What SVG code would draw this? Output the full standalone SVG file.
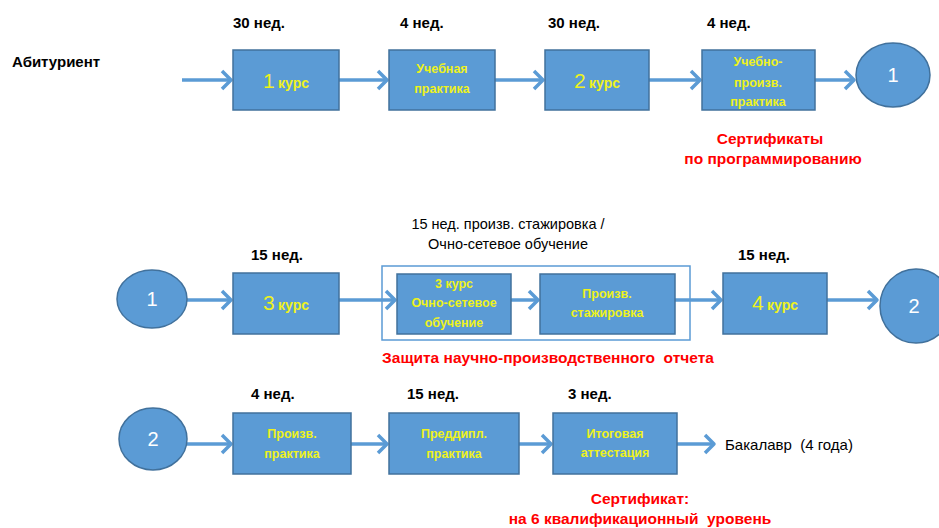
<svg xmlns="http://www.w3.org/2000/svg" width="939" height="528" viewBox="0 0 939 528">
<defs>
<marker id="ah" markerUnits="userSpaceOnUse" markerWidth="16" markerHeight="24" refX="12" refY="12" orient="auto">
<path d="M3,3 L12,12 L3,21" fill="none" stroke="#5b9bd5" stroke-width="3.5" stroke-linejoin="round"/>
</marker>
</defs>
<style>
text{white-space:pre}
.box{fill:#5b9bd5;stroke:#41719c;stroke-width:1.5}
.circ{fill:#5b9bd5;stroke:#41719c;stroke-width:1.5}
.bt{fill:#eef21c;font-family:"Liberation Sans",Arial,sans-serif;font-size:12.5px;font-weight:bold;text-anchor:middle}
.big{font-size:21px;font-weight:normal}
.mid{font-size:14px;font-weight:bold}
.ct{fill:#ffffff;font-family:"Liberation Sans",Arial,sans-serif;font-size:20px;text-anchor:middle}
.lbl{fill:#000;font-family:"Liberation Sans",Arial,sans-serif;font-size:15px;font-weight:bold}
.sm{fill:#000;font-family:"Liberation Sans",Arial,sans-serif;font-size:14.5px}
.red{fill:#ff0000;font-family:"Liberation Sans",Arial,sans-serif;font-size:15.5px;font-weight:bold;text-anchor:middle}
.arr{stroke:#5b9bd5;stroke-width:3.5;fill:none;marker-end:url(#ah)}
.frame{fill:none;stroke:#5b9bd5;stroke-width:1.5}
</style>
<rect width="939" height="528" fill="#ffffff"/>

<!-- labels -->
<text class="lbl" x="12" y="67">Абитуриент</text>
<text class="lbl" x="233" y="28">30 нед.</text>
<text class="lbl" x="400" y="28">4 нед.</text>
<text class="lbl" x="548" y="28">30 нед.</text>
<text class="lbl" x="707" y="28">4 нед.</text>
<text class="red" x="770" y="144">Сертификаты</text>
<text class="red" x="773" y="164">по программированию</text>

<text class="sm" x="508" y="229" text-anchor="middle">15 нед. произв. стажировка /</text>
<text class="sm" x="508" y="249" text-anchor="middle">Очно-сетевое обучение</text>
<text class="lbl" x="251" y="260">15 нед.</text>
<text class="lbl" x="738" y="260">15 нед.</text>
<text class="red" x="548" y="363">Защита научно-производственного  отчета</text>

<text class="lbl" x="251" y="399">4 нед.</text>
<text class="lbl" x="407" y="399">15 нед.</text>
<text class="lbl" x="568" y="399">3 нед.</text>
<text class="sm" x="725" y="450" style="font-size:15px">Бакалавр  (4 года)</text>
<text class="red" x="640" y="504">Сертификат:</text>
<text class="red" x="640" y="524">на 6 квалификационный  уровень</text>

<!-- connectors -->
<g id="connectors">
<path class="arr" d="M182,80 H231"/>
<path class="arr" d="M339,80 H387"/>
<path class="arr" d="M495,80 H543"/>
<path class="arr" d="M649,80 H700"/>
<path class="arr" d="M815,80 H854"/>
<path class="arr" d="M187,300 H231"/>
<path class="arr" d="M339,300 H395"/>
<path class="arr" d="M511,300 H538"/>
<path class="arr" d="M675,300 H721"/>
<path class="arr" d="M827,300 H877"/>
<path class="arr" d="M187,444 H231"/>
<path class="arr" d="M351,444 H387"/>
<path class="arr" d="M519,444 H551"/>
<path class="arr" d="M677,444 H714"/>
</g>

<!-- frame -->
<g id="frame">
<rect class="frame" x="382" y="266" width="308" height="74"/>
</g>

<!-- row 1 -->
<g id="n-kurs1"><rect class="box" x="233" y="50" width="106" height="60"/>
<text class="bt" x="286" y="88"><tspan class="big">1</tspan> <tspan class="mid">курс</tspan></text></g>
<g id="n-ucheb"><rect class="box" x="389" y="50" width="106" height="60"/>
<text class="bt" x="442" y="73">Учебная</text><text class="bt" x="442" y="93">практика</text></g>
<g id="n-kurs2"><rect class="box" x="545" y="50" width="104" height="60"/>
<text class="bt" x="597" y="88"><tspan class="big">2</tspan> <tspan class="mid">курс</tspan></text></g>
<g id="n-uchproiz"><rect class="box" x="702" y="50" width="113" height="60"/>
<text class="bt" x="758" y="66">Учебно-</text><text class="bt" x="758" y="87">произв.</text><text class="bt" x="758" y="106">практика</text></g>
<g id="c1a"><ellipse class="circ" cx="893" cy="75" rx="37" ry="32"/><text class="ct" x="893" y="82">1</text></g>

<!-- row 2 -->
<g id="c1b"><ellipse class="circ" cx="152" cy="299" rx="35" ry="29"/><text class="ct" x="152" y="306">1</text></g>
<g id="n-kurs3"><rect class="box" x="233" y="273" width="106" height="61"/>
<text class="bt" x="286" y="310"><tspan class="big">3</tspan> <tspan class="mid">курс</tspan></text></g>
<g id="n-ochno"><rect class="box" x="397" y="274" width="114" height="60"/>
<text class="bt" x="454" y="288">3 курс</text><text class="bt" x="454" y="307">Очно-сетевое</text><text class="bt" x="454" y="327">обучение</text></g>
<g id="n-stazh"><rect class="box" x="540" y="274" width="135" height="60"/>
<text class="bt" x="607" y="298">Произв.</text><text class="bt" x="607" y="317">стажировка</text></g>
<g id="n-kurs4"><rect class="box" x="723" y="273" width="104" height="61"/>
<text class="bt" x="775" y="310"><tspan class="big">4</tspan> <tspan class="mid">курс</tspan></text></g>
<g id="c2a"><ellipse class="circ" cx="916" cy="306" rx="36" ry="37"/><text class="ct" x="914" y="313">2</text></g>

<!-- row 3 -->
<g id="c2b"><ellipse class="circ" cx="153" cy="439" rx="34" ry="31"/><text class="ct" x="153" y="446">2</text></g>
<g id="n-proizpr"><rect class="box" x="233" y="413" width="118" height="61"/>
<text class="bt" x="292" y="438">Произв.</text><text class="bt" x="292" y="458">практика</text></g>
<g id="n-preddipl"><rect class="box" x="389" y="413" width="130" height="61"/>
<text class="bt" x="454" y="438">Преддипл.</text><text class="bt" x="454" y="458">практика</text></g>
<g id="n-itog"><rect class="box" x="553" y="413" width="124" height="61"/>
<text class="bt" x="615" y="438">Итоговая</text><text class="bt" x="615" y="457">аттестация</text></g>
</svg>
